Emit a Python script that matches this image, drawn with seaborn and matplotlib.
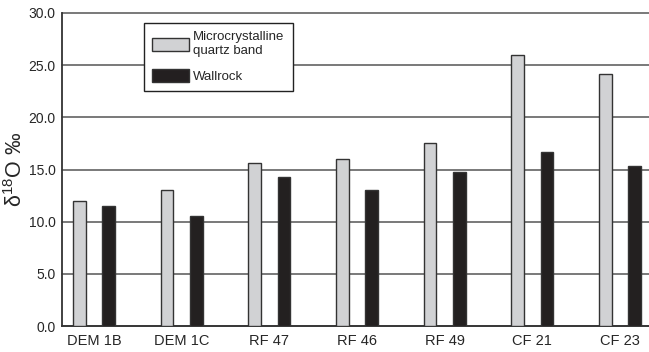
import pandas as pd
import matplotlib.pyplot as plt
import seaborn as sns
from matplotlib.patches import Patch

samples = ['DEM 1B', 'DEM 1C', 'RF 47', 'RF 46', 'RF 49', 'CF 21', 'CF 23']
quartz_band = [12.0, 13.0, 15.6, 16.0, 17.5, 26.0, 24.2]
wallrock = [11.5, 10.5, 14.3, 13.0, 14.8, 16.7, 15.3]
series_names = ['Microcrystalline\nquartz band', 'Wallrock']
colors = ['#d1d2d4', '#231f20']

df = pd.DataFrame({
    'sample': samples * 2,
    'value': quartz_band + wallrock,
    'type': [series_names[0]] * len(samples) + [series_names[1]] * len(samples),
})

sns.set_style("white")
plt.rcParams['font.family'] = ['Liberation Sans', 'DejaVu Sans']
plt.rcParams['mathtext.fontset'] = 'custom'
plt.rcParams['mathtext.rm'] = 'Liberation Sans'

fig = plt.figure(figsize=(6.49, 3.52), dpi=100)
ax = fig.add_axes([62 / 649, 1 - 326 / 352, 1 - 62 / 649, (326 - 13) / 352])

sns.barplot(data=df, x='sample', y='value', hue='type', order=samples,
            hue_order=series_names, palette=dict(zip(series_names, colors)),
            width=0.67, gap=0.57, edgecolor='#333333', linewidth=1.0,
            legend=False, ax=ax, zorder=3)

ax.set_ylim(0, 30)
ax.set_xlim(-0.365, 6.33)
ax.set_yticks(range(0, 31, 5))
ax.set_yticklabels([f'{v:.1f}' for v in range(0, 31, 5)], fontsize=10)
ax.tick_params(axis='y', direction='out', length=4, width=1, color='#333333', pad=0.5)
ax.tick_params(axis='x', length=0, labelsize=10.5, pad=6)
ax.yaxis.grid(True, color='#555555', linewidth=1.1, zorder=0)
for gl in ax.get_ygridlines():
    gl.set_clip_on(False)
ax.set_axisbelow(True)
for side in ['top', 'right']:
    ax.spines[side].set_visible(False)
for side in ['left', 'bottom']:
    ax.spines[side].set_color('#333333')
    ax.spines[side].set_linewidth(1.3)

ax.set_xlabel('')
ax.set_ylabel(r'$\mathregular{\delta^{18}}$O ‰', fontsize=15.5)
ax.yaxis.set_label_coords(-0.06, 0.5)

handles = [Patch(facecolor=c, edgecolor='#333333', linewidth=1.0) for c in colors]
leg = ax.legend(handles, series_names, loc='upper left', bbox_to_anchor=(0.128, 0.988),
                fontsize=9.5, frameon=True, fancybox=False, framealpha=1,
                edgecolor='#222222', handlelength=2.8, handleheight=1.1,
                handletextpad=0.35, labelspacing=0.9, borderpad=0.6)
leg.get_frame().set_linewidth(1.0)
leg.set_zorder(5)

plt.savefig('out.png', dpi=100)
plt.close()
